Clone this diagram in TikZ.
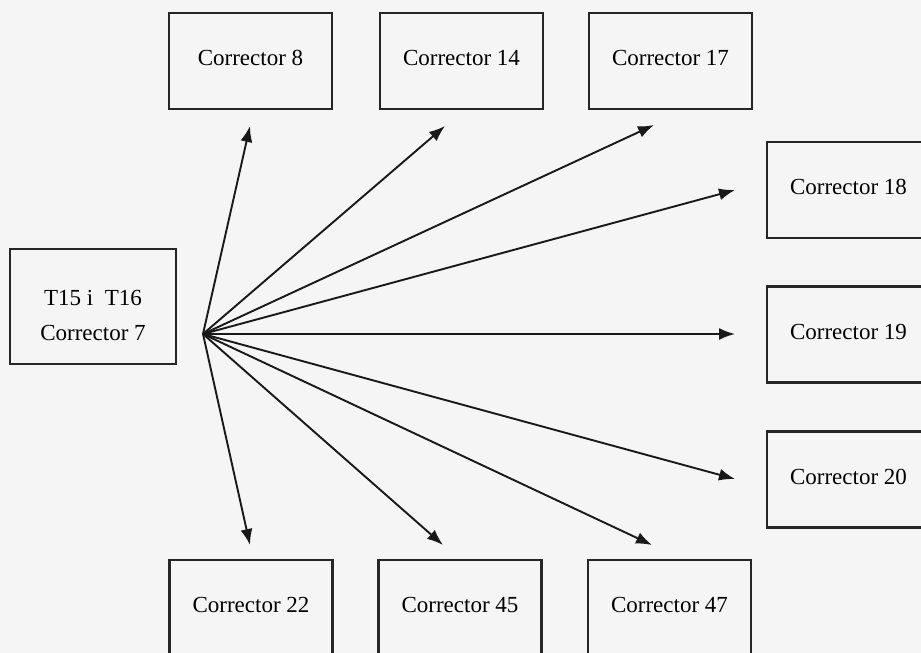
\documentclass[tikz,border=0pt]{standalone}
\usepackage{fontspec}
\setmainfont{Liberation Serif}
\usetikzlibrary{arrows.meta}

\begin{document}
\begin{tikzpicture}[x=0.5pt, y=-0.5pt,
    corrbox/.style={draw=black!85, line width=1.1pt, minimum width=81.5pt,
        minimum height=48pt, inner sep=0pt, text depth=3pt,
        font=\fontsize{11.5}{17.5}\selectfont},
    fanarrow/.style={draw=black!90, line width=0.95pt, -{Latex[length=8pt, width=6pt]}}]
    %\draw[help lines, step=50] (0, 0) grid (921, 653);

    \useasboundingbox (0, 0) rectangle (921, 653);
    \clip (0, 0) rectangle (921, 653);
    \fill[white!96!black] (0, 0) rectangle (921, 653);

    % source box
    \node[corrbox, minimum width=83pt, minimum height=57.5pt, text depth=0pt] (src) at (93, 306.5)
        {\raisebox{-7.5pt}[0pt][0pt]{\begin{tabular}{@{}c@{}}T15 i\ \ T16\\Corrector 7\end{tabular}}};
    \coordinate (hub) at (203, 334);

    % top row
    \node[corrbox] (c8) at (250.5, 61) {Corrector 8};
    \node[corrbox] (c14) at (461.5, 61) {Corrector 14};
    \node[corrbox] (c17) at (670.5, 61) {Corrector 17};

    % right column
    \node[corrbox] (c18) at (848.5, 190) {Corrector 18};
    \node[corrbox] (c19) at (848.5, 334.5) {Corrector 19};
    \node[corrbox] (c20) at (848.5, 479.5) {Corrector 20};

    % bottom row
    \node[corrbox] (c22) at (251, 608) {Corrector 22};
    \node[corrbox] (c45) at (460, 608) {Corrector 45};
    \node[corrbox] (c47) at (669.5, 608) {Corrector 47};

    % arrow tips, short of the boxes
    \coordinate (t8) at (250, 126);
    \coordinate (t14) at (445, 126);
    \coordinate (t17) at (654, 125);
    \coordinate (t18) at (735, 190);
    \coordinate (t19) at (735, 334);
    \coordinate (t20) at (735, 479);
    \coordinate (t22) at (250, 545);
    \coordinate (t45) at (443, 545);
    \coordinate (t47) at (652, 545);

    \draw[fanarrow] (hub) -- (t8);
    \draw[fanarrow] (hub) -- (t14);
    \draw[fanarrow] (hub) -- (t17);
    \draw[fanarrow] (hub) -- (t18);
    \draw[fanarrow] (hub) -- (t19);
    \draw[fanarrow] (hub) -- (t20);
    \draw[fanarrow] (hub) -- (t22);
    \draw[fanarrow] (hub) -- (t45);
    \draw[fanarrow] (hub) -- (t47);

\end{tikzpicture}
\end{document}
